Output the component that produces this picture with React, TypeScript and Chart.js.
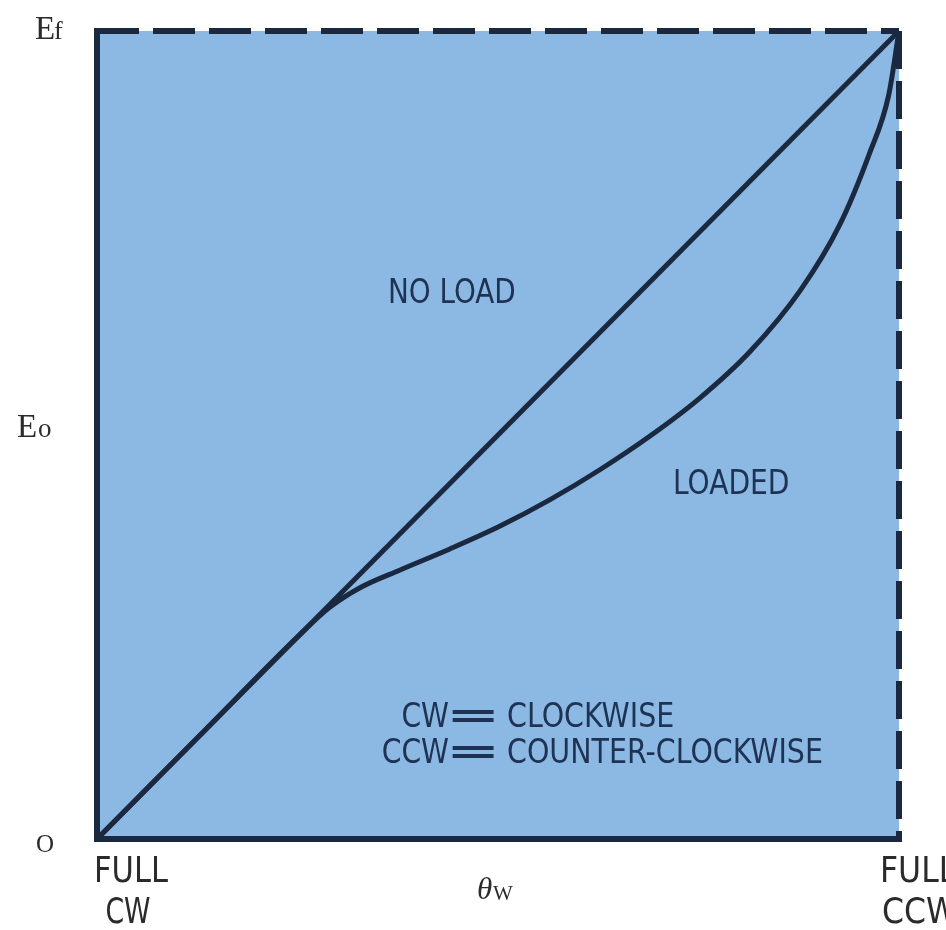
import { useEffect, useRef } from 'react';
import { Chart, registerables } from 'chart.js';

Chart.register(...registerables);

// Rotation of wiper: 0 = full clockwise, 100 = full counter-clockwise
const noLoadX = [0, 100];
const noLoadY = [0, 100];

const loadedX = [0, 12.6, 25.3, 29.05, 32.8, 37.8, 44.0, 50.2, 56.5, 62.7, 69.0, 75.2, 81.4, 87.7, 92.6, 96.3, 98.7, 100];
const loadedY = [0, 12.6, 25.3, 28.7, 31.1, 33.3, 35.9, 38.7, 42.0, 45.7, 49.9, 54.6, 60.3, 67.9, 76.0, 84.8, 92.0, 100];

const seriesLabels = ['NO LOAD', 'LOADED'];
const yAxisLabels = ['Ef', 'Eo', 'O'];
const xAxisLabels = ['FULL', 'CW', 'FULL', 'CCW'];
const legendLines = [
  ['CW', 'CLOCKWISE'],
  ['CCW', 'COUNTER-CLOCKWISE'],
];

const PANEL = '#8cb9e3';
const INK = '#1b2940';
const LABEL_INK = '#1e3353';
const OUT_INK = '#2b2b2b';
const SANS = '"Liberation Sans Narrow", "DejaVu Sans Condensed", "Liberation Sans", sans-serif';
const SERIF = '"Liberation Serif", "DejaVu Serif", serif';

const panelPlugin = {
  id: 'panel',
  beforeDatasetsDraw(chart: any) {
    const { ctx, chartArea } = chart;
    const { left, top, right, bottom } = chartArea;
    ctx.save();
    ctx.fillStyle = PANEL;
    ctx.fillRect(left, top, right - left, bottom - top);
    ctx.restore();
  },
  afterDatasetsDraw(chart: any) {
    const { ctx, chartArea } = chart;
    const { left, top, right, bottom } = chartArea;
    ctx.save();
    ctx.strokeStyle = INK;
    ctx.lineWidth = 6;
    ctx.lineCap = 'butt';
    // solid left and bottom
    ctx.beginPath();
    ctx.moveTo(left, top - 3);
    ctx.lineTo(left, bottom);
    ctx.lineTo(right + 3, bottom);
    ctx.stroke();
    // dashed top
    ctx.setLineDash([42, 14]);
    ctx.beginPath();
    ctx.moveTo(left, top);
    ctx.lineTo(right, top);
    ctx.stroke();
    // dashed right
    ctx.setLineDash([38, 12]);
    ctx.beginPath();
    ctx.moveTo(right, top);
    ctx.lineTo(right, bottom);
    ctx.stroke();
    ctx.restore();
  },
  afterDraw(chart: any) {
    const { ctx, chartArea } = chart;
    const { left, top, right, bottom } = chartArea;
    const text = (s: string, x: number, y: number, font: string, color: string, align: CanvasTextAlign = 'left', sx = 1) => {
      ctx.save();
      ctx.font = font;
      ctx.fillStyle = color;
      ctx.textAlign = align;
      ctx.textBaseline = 'alphabetic';
      ctx.translate(x, y);
      ctx.scale(sx, 1);
      ctx.fillText(s, 0, 0);
      ctx.restore();
    };
    // Y axis labels
    text(yAxisLabels[0].charAt(0), left - 62, top + 8, `33px ${SERIF}`, OUT_INK);
    text(yAxisLabels[0].charAt(1), left - 43, top + 8, `26px ${SERIF}`, OUT_INK);
    const midY = (top + bottom) / 2;
    text(yAxisLabels[1].charAt(0), left - 80, midY + 2, `33px ${SERIF}`, OUT_INK);
    text(yAxisLabels[1].charAt(1), left - 59, midY + 2, `27px ${SERIF}`, OUT_INK);
    text(yAxisLabels[2], left - 61, bottom + 13, `25px ${SERIF}`, OUT_INK);

    // X axis labels
    text(xAxisLabels[0], left + 34, bottom + 43, `35px ${SANS}`, OUT_INK, 'center', 0.97);
    text(xAxisLabels[1], left + 31, bottom + 84, `35px ${SANS}`, OUT_INK, 'center', 0.85);
    text(xAxisLabels[2], right - 19, bottom + 43, `35px ${SANS}`, OUT_INK, 'left');
    text(xAxisLabels[3], right - 17, bottom + 84, `35px ${SANS}`, OUT_INK, 'left');
    const midX = (left + right) / 2;
    text('\u03b8', midX - 21, bottom + 60, `italic 31px ${SERIF}`, OUT_INK);
    text('W', midX - 5, bottom + 61, `21px ${SERIF}`, OUT_INK);

    // In-panel labels
    text(seriesLabels[0], left + 291, top + 272, `34px ${SANS}`, LABEL_INK, 'left', 0.91);
    text(seriesLabels[1], left + 576, top + 463, `34px ${SANS}`, LABEL_INK, 'left', 0.92);
    const eqX = left + 376;
    const baselines = [top + 696, top + 732];
    legendLines.forEach((pair, i) => {
      text(pair[0], eqX - 24, baselines[i], `33px ${SANS}`, LABEL_INK, 'right', 0.95);
      text('=', eqX, baselines[i], `bold 33px ${SANS}`, LABEL_INK, 'center', 2.2);
      text(pair[1], eqX + 34, baselines[i], `33px ${SANS}`, LABEL_INK, 'left', 0.96);
    });
  },
};

export default function App() {
  const ref = useRef<HTMLCanvasElement | null>(null);
  useEffect(() => {
    if (!ref.current) return;
    const chart = new Chart(ref.current, {
      type: 'line',
      data: {
        datasets: [
          {
            label: seriesLabels[0],
            data: noLoadX.map((x, i) => ({ x, y: noLoadY[i] })),
            borderColor: INK,
            borderWidth: 5,
            pointRadius: 0,
            fill: false,
            clip: false as any,
          },
          {
            label: seriesLabels[1],
            data: loadedX.map((x, i) => ({ x, y: loadedY[i] })),
            borderColor: INK,
            borderWidth: 5,
            pointRadius: 0,
            fill: false,
            cubicInterpolationMode: 'monotone',
            clip: false as any,
          },
        ],
      },
      options: {
        animation: false,
        responsive: false,
        maintainAspectRatio: false,
        layout: { padding: { left: 97, right: 47, top: 31, bottom: 91 } },
        plugins: { legend: { display: false }, tooltip: { enabled: false } },
        scales: {
          x: { type: 'linear', min: 0, max: 100, display: false },
          y: { type: 'linear', min: 0, max: 100, display: false },
        },
      },
      plugins: [panelPlugin],
    });
    return () => chart.destroy();
  }, []);
  return (
    <div style={{ position: 'absolute', left: 0, top: 0, width: 946, height: 930, background: '#fff' }}>
      <canvas ref={ref} width={946} height={930} style={{ width: 946, height: 930, display: 'block' }} />
    </div>
  );
}
